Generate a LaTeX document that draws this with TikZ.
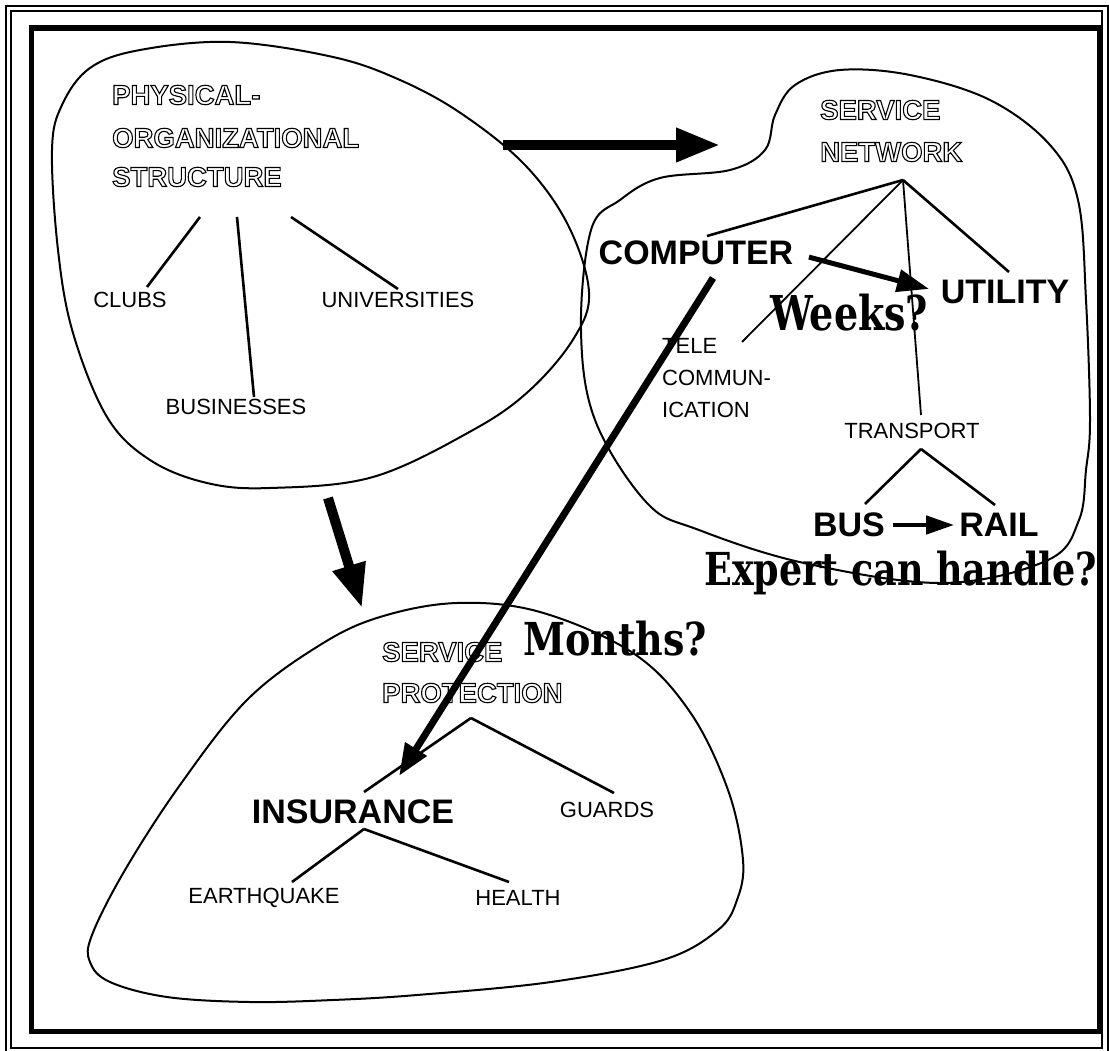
\documentclass[tikz,border=0pt]{standalone}
\usepackage{fontspec}
\usepackage{graphicx}
\setmainfont{Liberation Sans}
\newfontfamily\slabfont{DejaVu Serif}
\usetikzlibrary{positioning, arrows.meta}

\newcommand{\hollow}[1]{\special{pdf:literal direct 1 Tr 1.1 w}#1\special{pdf:literal direct 0 Tr}}

\begin{document}
\begin{tikzpicture}[x=1pt, y=-1pt,
  lbl/.style={inner sep=0pt, font=\fontsize{22}{26}\selectfont},
  big/.style={inner sep=0pt, font=\fontsize{34}{40}\selectfont\bfseries},
  ttl/.style={inner sep=0pt, anchor=west, font=\fontsize{27.5}{30}\selectfont\bfseries},
  slab/.style={inner sep=0pt, anchor=base west, font=\slabfont\bfseries},
  blob/.style={line width=2pt},
  branch/.style={line width=2.6pt},
  twig/.style={line width=1.8pt},
  fat/.style={line width=10pt, -{Triangle[length=44pt, width=32pt]}},
  link/.style={line width=5pt, -{Triangle[length=32pt, width=22pt]}}]
  \useasboundingbox (0,0) rectangle (1109,1051);

  \draw[line width=2pt] (6,6) rectangle (1108,1062);
  \draw[line width=2pt] (11,11) rectangle (1102,1048);
  \draw[line width=5.5pt] (31.5,28) rectangle (1099.5,1031.5);

  \draw[blob] plot[smooth cycle, tension=0.6] coordinates {(230,42) (333,57) (400,80) (462,114) (525,165) (568,225) (589,292) (574,338) (530,390) (473,430) (373,477) (270,488) (207,483) (150,460) (107,417) (73,333) (58,250) (52,150) (62,105) (90,68) (140,50)};
  \draw[blob] plot[smooth cycle, tension=0.6] coordinates {(591,230) (620,200) (660,178) (730,170) (765,150) (775,115) (795,85) (840,70) (910,75) (990,100) (1050,145) (1078,200) (1086,300) (1090,420) (1086,470) (1079,520) (1048,560) (943,583) (804,563) (699,530) (647,503) (595,420) (581,330)};
  \draw[blob] plot[smooth cycle, tension=0.6] coordinates {(457,603) (540,612) (633,653) (690,712) (728,790) (743,860) (737,900) (718,930) (663,960) (551,982) (417,995) (333,1000) (250,1002) (167,997) (110,982) (90,962) (92,935) (125,870) (180,785) (247,700) (320,645) (380,617)};

  \node[ttl] (phys1) at (112,95) {\hollow{PHYSICAL-}};
  \node[ttl] (phys2) at (112,138) {\hollow{ORGANIZATIONAL}};
  \node[ttl] (phys3) at (112,177) {\hollow{STRUCTURE}};
  \node[ttl] (net1) at (820,110) {\hollow{SERVICE}};
  \node[ttl] (net2) at (820,152) {\hollow{NETWORK}};
  \node[ttl] (prot1) at (382,652) {\hollow{SERVICE}};
  \node[ttl] (prot2) at (382,693) {\hollow{PROTECTION}};

  \node[lbl] (clubs) at (130,300) {CLUBS};
  \node[lbl] (univ) at (398,300) {UNIVERSITIES};
  \node[lbl] (business) at (236,407) {BUSINESSES};

  \node[big] (computer) at (696,253) {COMPUTER};
  \node[big] (utility) at (1005,292) {UTILITY};
  \node[lbl, align=left, anchor=north west, font=\fontsize{22}{32}\selectfont] (telecom) at (662,338) {TELE\\COMMUN-\\ICATION};
  \node[lbl] (transport) at (912,431) {TRANSPORT};
  \node[big] (bus) at (849,525) {BUS};
  \node[big] (rail) at (999,525) {RAIL};

  \node[big] (insurance) at (353,812) {INSURANCE};
  \node[lbl] (guards) at (607,810) {GUARDS};
  \node[lbl] (quake) at (264,898) {EARTHQUAKE};
  \node[lbl] (health) at (518,898) {HEALTH};

  \node[slab] (weeks) at (770,330) {\resizebox{158pt}{36.5pt}{Weeks?}};
  \node[slab] (months) at (523,655) {\resizebox{184pt}{34.5pt}{Months?}};
  \node[slab] (expert) at (704,585) {\resizebox{393pt}{34.5pt}{Expert can handle?}};

  \coordinate (clubs-up) at (200,217);
  \coordinate (clubs-in) at (147,287);
  \coordinate (biz-up) at (237,217);
  \coordinate (biz-in) at (254,397);
  \coordinate (univ-up) at (291,217);
  \coordinate (univ-in) at (398,289);
  \coordinate (netroot) at (903,180);
  \coordinate (comp-in) at (707,236);
  \coordinate (tele-in) at (742,342);
  \coordinate (trans-in) at (921,415);
  \coordinate (util-in) at (1009,272);
  \coordinate (transroot) at (921,449);
  \coordinate (bus-in) at (865,504);
  \coordinate (rail-in) at (995,505);
  \coordinate (protroot) at (471,718);
  \coordinate (ins-in) at (364,792);
  \coordinate (guard-in) at (614,793);
  \coordinate (insroot) at (364,829);
  \coordinate (quake-in) at (292,882);
  \coordinate (health-in) at (509,882);

  \draw[branch] (clubs-up) -- (clubs-in);
  \draw[branch] (biz-up) -- (biz-in);
  \draw[branch] (univ-up) -- (univ-in);
  \draw[branch] (netroot) -- (comp-in);
  \draw[twig] (netroot) -- (tele-in);
  \draw[twig] (netroot) -- (trans-in);
  \draw[branch] (netroot) -- (util-in);
  \draw[branch] (transroot) -- (bus-in);
  \draw[branch] (transroot) -- (rail-in);
  \draw[branch] (protroot) -- (ins-in);
  \draw[branch] (protroot) -- (guard-in);
  \draw[branch] (insroot) -- (quake-in);
  \draw[branch] (insroot) -- (health-in);

  \coordinate (phys-out) at (503,145);
  \coordinate (net-in) at (720,145);
  \coordinate (phys-down) at (328,498);
  \coordinate (prot-in) at (362,608);
  \coordinate (comp-out) at (713,278);
  \coordinate (ins-tip) at (399,776);

  \draw[fat] (phys-out) -- (net-in);
  \draw[fat] (phys-down) -- (prot-in);
  \draw[line width=7pt, -{Triangle[length=32pt, width=24pt]}] (comp-out) -- (ins-tip);
  \draw[link, shorten <=16pt, shorten >=12pt] (computer.east) -- (utility.west);
  \draw[line width=4.5pt, -{Triangle[length=28pt, width=18pt]}, shorten <=8pt, shorten >=5pt] (bus.east) -- (rail.west);
\end{tikzpicture}
\end{document}
